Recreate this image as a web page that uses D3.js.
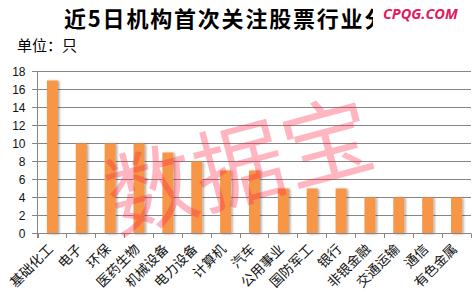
<!DOCTYPE html>
<html>
<head>
<meta charset="utf-8">
<script src="https://cdn.jsdelivr.net/npm/d3@7/dist/d3.min.js"></script>
<style>
  html, body { margin: 0; padding: 0; background: #fff; }
  svg { display: block; }
</style>
</head>
<body>
<svg id="chart" width="474" height="299"></svg>
<script>
const categories = ["基础化工","电子","环保","医药生物","机械设备","电力设备","计算机","汽车","公用事业","国防军工","银行","非银金融","交通运输","通信","有色金属"];
const values = [17,10,10,10,9,8,7,7,5,5,5,4,4,4,4];
const yTicks = [0,2,4,6,8,10,12,14,16,18];
const titleText = "近5日机构首次关注股票行业分布";
const unitText = "单位：只";
const watermarkText = "数据宝";
const logoText = "CPQG.COM";

const svg = d3.select("#chart");
const cjk = "'Noto Sans CJK SC', 'Noto Sans', sans-serif";

const defs = svg.append("defs");
const f = defs.append("filter").attr("id","shadow").attr("x","-50%").attr("y","-10%").attr("width","200%").attr("height","120%");
f.append("feDropShadow").attr("dx",1.5).attr("dy",0.5).attr("stdDeviation",1.1)
  .attr("flood-color","#000").attr("flood-opacity",0.35);
defs.append("clipPath").attr("id","titleClip").append("rect")
  .attr("x",0).attr("y",0).attr("width",373).attr("height",40);

const x = d3.scaleBand().domain(categories).range([37.5, 470.5]).paddingInner(0).paddingOuter(0);
const y = d3.scaleLinear().domain([0,18]).range([233.5, 71.5]);

// gridlines
svg.append("g").selectAll("line").data(yTicks).join("line")
  .attr("x1", 32).attr("x2", 471)
  .attr("y1", d => y(d)).attr("y2", d => y(d))
  .attr("stroke", "#868686").attr("stroke-width", 1);

// y axis line
svg.append("line").attr("x1",37.5).attr("x2",37.5).attr("y1",y(18)).attr("y2",238)
  .attr("stroke","#868686");

// y tick labels
svg.append("g").selectAll("text").data(yTicks).join("text")
  .attr("x", 25.5).attr("y", d => y(d)).attr("dy","0.36em")
  .attr("text-anchor","end")
  .attr("font-family","'Liberation Sans', Arial, sans-serif")
  .attr("font-size", 12).attr("fill","#111")
  .text(d => d);

// x axis ticks
const bounds = categories.map(c => x(c)).concat([x.range()[1]]);
svg.append("g").selectAll("line").data(bounds).join("line")
  .attr("x1", d => Math.round(d)+0.5).attr("x2", d => Math.round(d)+0.5)
  .attr("y1", 233.5).attr("y2", 238)
  .attr("stroke","#868686");

// bars
const bw = 11;
svg.append("g").attr("filter","url(#shadow)").selectAll("rect").data(values).join("rect")
  .attr("x", (d,i) => x(categories[i]) + x.bandwidth()/2 - bw/2 + 0.5)
  .attr("y", d => y(d))
  .attr("width", bw)
  .attr("height", d => y(0) - y(d))
  .attr("fill", "#F79646");

// x axis line
svg.append("line").attr("x1",37.5).attr("x2",471).attr("y1",233.5).attr("y2",233.5)
  .attr("stroke","#868686");

// x labels
svg.append("g").selectAll("text").data(categories).join("text")
  .attr("transform", d => `translate(${x(d) + x.bandwidth()/2 + 2},${250}) rotate(-45)`)
  .attr("text-anchor","end")
  .attr("font-family", cjk)
  .attr("font-size", 13.5).attr("fill","#111")
  .text(d => d);

// watermark
svg.append("text")
  .attr("transform","translate(238,160) rotate(-15)")
  .attr("text-anchor","middle").attr("dominant-baseline","central")
  .attr("font-family", cjk).attr("font-size", 90)
  .attr("fill","#ff2244").attr("fill-opacity",0.33)
  .attr("letter-spacing", 1)
  .text(watermarkText);

// title (clipped by the logo box, as in the reference)
svg.append("text").attr("x",64).attr("y",27)
  .attr("clip-path","url(#titleClip)")
  .attr("font-family", cjk).attr("font-weight","bold")
  .attr("font-size", 22).attr("letter-spacing", 1.8).attr("fill","#000")
  .text(titleText);

// logo
svg.append("text").attr("x",383).attr("y",18.5)
  .attr("font-family","'Open Sans', 'Liberation Sans', sans-serif").attr("font-weight","bold")
  .attr("font-style","italic")
  .attr("font-size", 14.5).attr("fill","#E2195B")
  .text(logoText);

// unit
svg.append("text").attr("x",17).attr("y",51)
  .attr("font-family", cjk).attr("font-size", 15).attr("fill","#000")
  .text(unitText);
</script>
</body>
</html>
